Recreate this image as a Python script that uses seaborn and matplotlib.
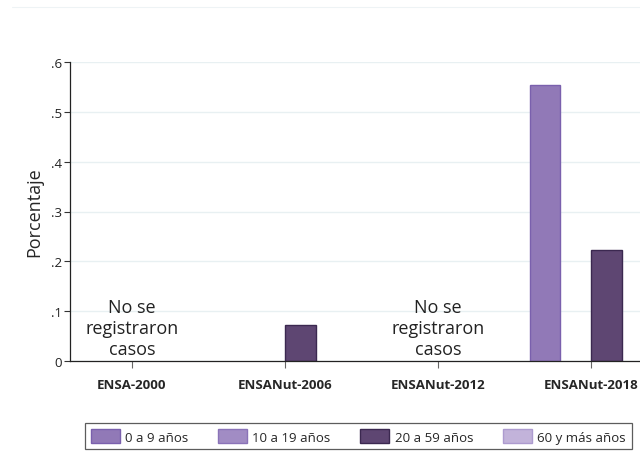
import numpy as np
import pandas as pd
import matplotlib
matplotlib.use("Agg")
import matplotlib.pyplot as plt
import seaborn as sns
from matplotlib.patches import Patch
from matplotlib.lines import Line2D

surveys = ["ENSA-2000", "ENSANut-2006", "ENSANut-2012", "ENSANut-2018"]
age_groups = ["0 a 9 años", "10 a 19 años", "20 a 59 años", "60 y más años"]
v_0_9 = [np.nan, np.nan, np.nan, 0.554]
v_10_19 = [np.nan, np.nan, np.nan, np.nan]
v_20_59 = [np.nan, 0.072, np.nan, 0.223]
v_60 = [np.nan, np.nan, np.nan, np.nan]
no_cases = ["ENSA-2000", "ENSANut-2012"]
yticks = [0, 0.1, 0.2, 0.3, 0.4, 0.5, 0.6]
ytick_labels = ["0", ".1", ".2", ".3", ".4", ".5", ".6"]

colors = ["#9179b7", "#a18cc4", "#5e4672", "#c2b3da"]
edges = ["#7a60ad", "#8a73b8", "#3b2850", "#ad9bcf"]

rows = []
for g, vals in zip(age_groups, [v_0_9, v_10_19, v_20_59, v_60]):
    for s, v in zip(surveys, vals):
        rows.append({"survey": s, "grupo": g, "valor": v})
df = pd.DataFrame(rows)

sns.set_style("white")
plt.rcParams["font.family"] = ["Open Sans", "DejaVu Sans"]

fig = plt.figure(figsize=(6.4, 4.52), dpi=100)
W, H = 640, 452
ax = fig.add_axes([70 / W, 1 - 362 / H, (653 - 70) / W, (362 - 63) / H])

sns.barplot(data=df, x="survey", y="valor", hue="grupo", order=surveys,
            hue_order=age_groups, palette=colors, width=0.8, ax=ax,
            errorbar=None, legend=False, saturation=1)

for cont, ec in zip(ax.containers, edges):
    for bar in cont:
        bar.set_edgecolor(ec)
        bar.set_linewidth(1.0)

ax.set_ylim(0, 0.6)
ax.set_xlim(-0.405, 3.405)
ax.set_yticks(yticks)
ax.set_yticklabels(ytick_labels, fontsize=9.5, color="#222222")
ax.yaxis.grid(True, color="#e8f0f2", linewidth=1.0)
ax.set_axisbelow(True)
for lab in ax.get_xticklabels():
    lab.set_fontweight("bold")
    lab.set_fontsize(9.5)
ax.tick_params(axis="y", which="both", left=True, length=4, width=0.8, color="#333333", pad=2)
ax.tick_params(axis="x", which="both", bottom=True, length=5, width=0.8, color="#666666", pad=7)
ax.set_xlabel("")
ax.set_ylabel("Porcentaje", fontsize=13, labelpad=5)
for side in ["top", "right"]:
    ax.spines[side].set_visible(False)
ax.spines["left"].set_color("#222222")
ax.spines["bottom"].set_color("#222222")
ax.spines["left"].set_linewidth(0.9)
ax.spines["bottom"].set_linewidth(0.9)

for s in no_cases:
    i = surveys.index(s)
    ax.text(i, 0.066, "No se\nregistraron\ncasos", ha="center", va="center",
            fontsize=13, color="#222222", linespacing=1.2)

handles = [Patch(facecolor=c, edgecolor=e, linewidth=1) for c, e in zip(colors, edges)]
leg = fig.legend(handles, age_groups, loc="upper left",
                 bbox_to_anchor=(85 / W, 1 - 424 / H), ncol=4, fontsize=9.5,
                 frameon=True, fancybox=False, edgecolor="#333333",
                 handlelength=2.2, handleheight=1.3, columnspacing=2.25,
                 handletextpad=0.4, borderpad=0.45, borderaxespad=0)
leg.get_frame().set_linewidth(0.9)

fig.add_artist(Line2D([12 / W, 1], [1 - 8 / H, 1 - 8 / H], color="#eef3f5", linewidth=0.8))

fig.savefig("out.png", dpi=100)
